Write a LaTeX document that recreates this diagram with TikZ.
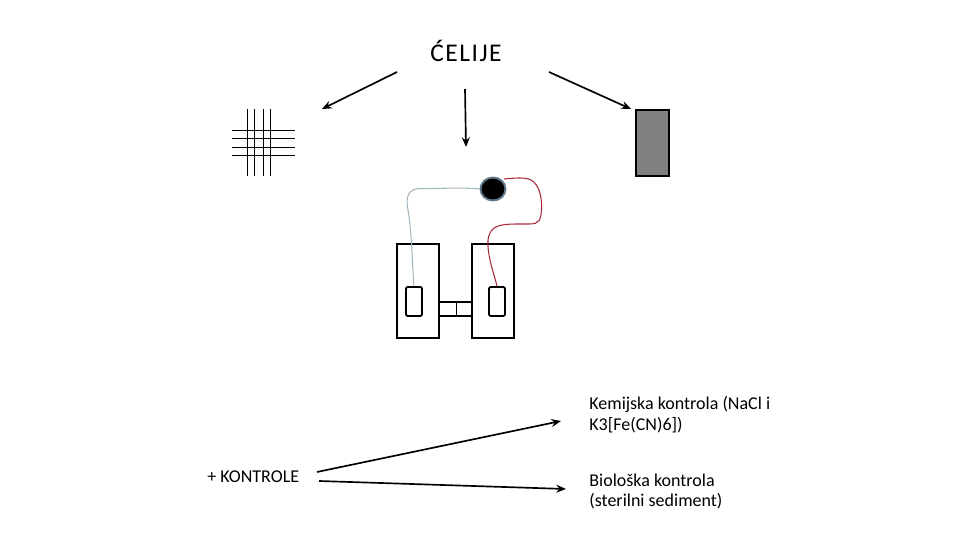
\documentclass[tikz,border=0pt]{standalone}
\usepackage{fontspec}
\setmainfont{Carlito}
\usetikzlibrary{arrows.meta, calc, shapes.geometric}
\definecolor{wireblue}{HTML}{A3B5BE}
\definecolor{wirered}{HTML}{A52A3A}
\definecolor{dropedge}{HTML}{60788A}
\tikzset{
    arrowline/.style={line width=0.95pt, -{Stealth[length=5.5pt, width=4.5pt]}},
    gridline/.style={line width=0.55pt},
    cellbox/.style={draw, line width=0.95pt, minimum width=0.84cm, minimum height=1.88cm, inner sep=0pt},
    electrode/.style={draw, line width=0.95pt, rounded corners=0.8pt, minimum width=0.32cm, minimum height=0.58cm, inner sep=0pt},
    caption/.style={anchor=west, align=left, font=\fontsize{10.25pt}{11.9pt}\selectfont, inner sep=0pt},
}
\begin{document}
\begin{tikzpicture}
        \useasboundingbox (0,0) rectangle (19.2,10.8);

        % Title and its three arrows
        \node[font=\fontsize{14.5pt}{16pt}\selectfont\addfontfeatures{LetterSpace=6}] (title) at (9.32,9.78) {ĆELIJE};
        \coordinate (gridfrom) at (7.94,9.36);
        \coordinate (gridto) at (6.44,8.62);
        \coordinate (midfrom) at (9.3,9.02);
        \coordinate (midto) at (9.32,7.86);
        \coordinate (platefrom) at (10.98,9.36);
        \coordinate (plateto) at (12.62,8.62);
        \draw[arrowline] (gridfrom) -- (gridto);
        \draw[arrowline] (midfrom) -- (midto);
        \draw[arrowline] (platefrom) -- (plateto);

        % Mesh
        \foreach \x in {4.94,5.08,5.26,5.40}
            \draw[gridline] (\x,8.62) -- (\x,7.28);
        \foreach \y in {8.20,8.04,7.86,7.70}
            \draw[gridline] (4.64,\y) -- (5.90,\y);

        % Gray plate
        \node[draw, fill=black!50, line width=0.95pt, minimum width=0.66cm, minimum height=1.32cm, inner sep=0pt] (plate) at (13.05,7.94) {};

        % Two half cells with the bridge
        \node[cellbox] (cellL) at (8.36,4.98) {};
        \node[cellbox] (cellR) at (9.86,4.98) {};
        \node[electrode] (elecL) at (8.28,4.77) {};
        \node[electrode] (elecR) at (9.94,4.77) {};
        \draw[line width=0.95pt] ($(cellL.east)+(0,-0.22)$) -- ($(cellR.west)+(0,-0.22)$);
        \draw[line width=0.95pt] ($(cellL.east)+(0,-0.50)$) -- ($(cellR.west)+(0,-0.50)$);
        \coordinate (bridgetop) at (9.12,4.76);
        \coordinate (bridgebot) at (9.12,4.48);
        \draw[gridline] (bridgetop) -- (bridgebot);

        % Meter and wires
        \node[ellipse, draw=dropedge, fill=black, line width=1.1pt, minimum width=0.5cm, minimum height=0.46cm, inner sep=0pt] (meter) at (9.86,7.02) {};
        \coordinate (redstart) at (10.08,7.22);
        \draw[wireblue, line width=0.6pt] (meter.west) .. controls (9.2,7.06) and (8.7,7.02) .. (8.4,7.03)
            .. controls (8.12,7.02) and (8.12,6.8) .. (8.16,6.6)
            .. controls (8.24,6.1) and (8.24,5.6) .. (elecL.north);
        \draw[wirered, line width=0.6pt] (redstart) .. controls (10.3,7.24) and (10.5,7.26) .. (10.62,7.2)
            .. controls (10.8,7.1) and (10.86,6.8) .. (10.82,6.5)
            .. controls (10.78,6.3) and (10.7,6.32) .. (10.4,6.32)
            .. controls (10.0,6.32) and (9.8,6.3) .. (9.76,6.0)
            .. controls (9.74,5.7) and (9.86,5.4) .. (elecR.north);

        % Controls
        \node[anchor=west, font=\fontsize{10.25pt}{12pt}\selectfont, inner sep=0pt] (controls) at (4.14,1.26) {+ KONTROLE};
        \node[caption] (chem) at (11.78,2.51) {Kemijska kontrola (NaCl i\\K3[Fe(CN)6])};
        \node[caption] (bio) at (11.78,0.97) {Biološka kontrola\\(sterilni sediment)};
        \coordinate (chemfrom) at (6.34,1.36);
        \coordinate (chemto) at (11.22,2.38);
        \coordinate (biofrom) at (6.38,1.18);
        \coordinate (bioto) at (11.32,1.02);
        \draw[arrowline] (chemfrom) -- (chemto);
        \draw[arrowline] (biofrom) -- (bioto);
\end{tikzpicture}
\end{document}
